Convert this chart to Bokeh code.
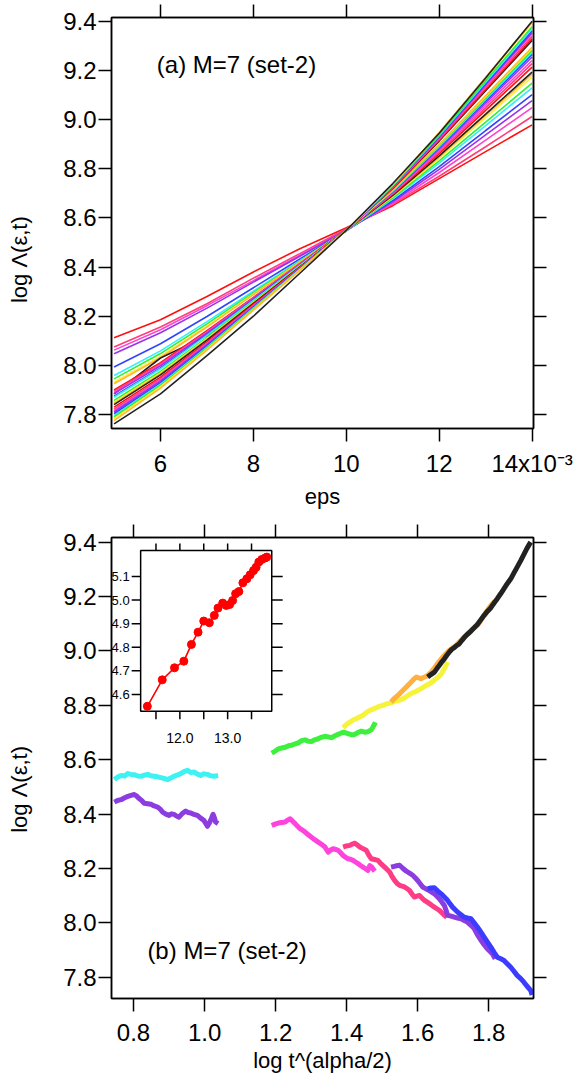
import numpy as np
from bokeh.plotting import figure
from bokeh.models import (Range1d, LinearAxis, FixedTicker, LabelSet, Label,
                          ColumnDataSource, PrintfTickFormatter)
from bokeh.layouts import column
from bokeh.embed import file_html
from bokeh.resources import INLINE
from bokeh.core.properties import value

FONT = "Liberation Sans"
NB = "\u00a0"

# ---------------- panel (a) data ----------------
eps = [5, 6, 7, 8, 9, 10, 11, 12, 13, 14]
cycle_colors = ["#ff1010", "#ff3d7a", "#ff44cc", "#9933ee", "#3344ff",
                "#33eeff", "#33ee33", "#ffee33", "#ffb833", "#222222"]

set1 = [
    [8.112, 8.186, 8.280, 8.380, 8.475, 8.560, 8.650, 8.760, 8.870, 8.979],
    [8.075, 8.156, 8.251, 8.355, 8.455, 8.556, 8.656, 8.770, 8.890, 9.013],
    [8.062, 8.145, 8.243, 8.345, 8.448, 8.552, 8.660, 8.785, 8.917, 9.049],
    [8.047, 8.133, 8.233, 8.339, 8.444, 8.550, 8.666, 8.798, 8.938, 9.078],
    [7.993, 8.088, 8.199, 8.316, 8.433, 8.548, 8.671, 8.809, 8.956, 9.102],
    [7.959, 8.059, 8.178, 8.302, 8.426, 8.548, 8.678, 8.823, 8.976, 9.130],
    [7.945, 8.048, 8.169, 8.296, 8.423, 8.550, 8.682, 8.832, 8.990, 9.149],
    [7.931, 8.036, 8.160, 8.290, 8.420, 8.550, 8.687, 8.843, 9.008, 9.173],
    [7.925, 8.031, 8.156, 8.288, 8.419, 8.550, 8.690, 8.848, 9.017, 9.185],
    [7.884, 8.030, 8.120, 8.270, 8.410, 8.550, 8.692, 8.853, 9.023, 9.194],
]
set2 = [
    [7.900, 8.011, 8.141, 8.277, 8.414, 8.552, 8.696, 8.862, 9.038, 9.214],
    [7.895, 8.006, 8.137, 8.275, 8.412, 8.550, 8.699, 8.869, 9.048, 9.228],
    [7.890, 8.002, 8.134, 8.273, 8.411, 8.550, 8.702, 8.875, 9.058, 9.241],
    [7.885, 7.998, 8.131, 8.271, 8.410, 8.548, 8.705, 8.881, 9.068, 9.255],
    [7.875, 7.990, 8.125, 8.267, 8.408, 8.550, 8.708, 8.887, 9.076, 9.266],
    [7.870, 7.986, 8.122, 8.264, 8.407, 8.550, 8.709, 8.890, 9.082, 9.274],
    [7.857, 7.975, 8.113, 8.259, 8.404, 8.550, 8.711, 8.894, 9.088, 9.282],
    [7.850, 7.969, 8.109, 8.256, 8.403, 8.550, 8.713, 8.898, 9.094, 9.290],
    [7.845, 7.965, 8.106, 8.254, 8.402, 8.550, 8.714, 8.900, 9.098, 9.295],
    [7.840, 7.961, 8.103, 8.252, 8.401, 8.550, 8.720, 8.913, 9.118, 9.323],
]
set3 = [
    [7.830, 7.952, 8.096, 8.248, 8.399, 8.550, 8.722, 8.917, 9.123, 9.330],
    [7.822, 7.946, 8.091, 8.244, 8.397, 8.550, 8.724, 8.921, 9.131, 9.340],
    [7.816, 7.941, 8.088, 8.242, 8.396, 8.550, 8.726, 8.926, 9.138, 9.350],
    [7.810, 7.936, 8.084, 8.239, 8.395, 8.550, 8.727, 8.928, 9.142, 9.355],
    [7.803, 7.930, 8.079, 8.236, 8.393, 8.550, 8.729, 8.932, 9.147, 9.362],
    [7.795, 7.923, 8.074, 8.233, 8.391, 8.550, 8.730, 8.935, 9.153, 9.370],
    [7.790, 7.919, 8.071, 8.231, 8.390, 8.550, 8.732, 8.939, 9.159, 9.378],
    [7.782, 7.913, 8.066, 8.227, 8.389, 8.550, 8.735, 8.946, 9.170, 9.393],
    [7.775, 7.907, 8.062, 8.225, 8.387, 8.550, 8.736, 8.948, 9.173, 9.397],
    [7.762, 7.884, 8.040, 8.200, 8.375, 8.550, 8.740, 8.945, 9.170, 9.401],
]

a_xticks = [6, 8, 10, 12, 14]
a_xlabels = ["6", "8", "10", "12", "14x10\u207b\u00b3"]
a_yticks = [7.8, 8.0, 8.2, 8.4, 8.6, 8.8, 9.0, 9.2, 9.4]

# ---------------- panel (b) data ----------------
cyan_x = [0.746, 0.755, 0.765, 0.775, 0.784, 0.793, 0.802, 0.812, 0.821, 0.830, 0.840,
          0.849, 0.858, 0.868, 0.877, 0.886, 0.896, 0.905, 0.914, 0.924, 0.933,
          0.942, 0.952, 0.961, 0.971, 0.980, 0.989, 0.998, 1.008, 1.017, 1.027, 1.038]
cyan_y = [8.527, 8.536, 8.542, 8.540, 8.549, 8.546, 8.545, 8.540, 8.539, 8.543, 8.546,
          8.541, 8.539, 8.537, 8.534, 8.531, 8.527, 8.533, 8.539, 8.544, 8.549,
          8.556, 8.561, 8.553, 8.555, 8.547, 8.542, 8.548, 8.546, 8.541, 8.539, 8.542]
purple1_x = [0.746, 0.755, 0.765, 0.775, 0.784, 0.793, 0.802, 0.809, 0.816, 0.823,
             0.830, 0.840, 0.849, 0.858, 0.868, 0.875, 0.882, 0.891, 0.900, 0.907,
             0.914, 0.921, 0.928, 0.937, 0.947, 0.954, 0.961, 0.970, 0.980, 0.989,
             0.998, 1.003, 1.008, 1.013, 1.017, 1.021, 1.024, 1.028, 1.031, 1.038]
purple1_y = [8.444, 8.450, 8.453, 8.460, 8.465, 8.469, 8.472, 8.466, 8.457, 8.450,
             8.440, 8.438, 8.436, 8.430, 8.426, 8.418, 8.407, 8.400, 8.395, 8.401,
             8.399, 8.393, 8.389, 8.402, 8.411, 8.406, 8.404, 8.399, 8.395, 8.385,
             8.377, 8.366, 8.355, 8.366, 8.377, 8.390, 8.399, 8.385, 8.371, 8.365]
green_x = [1.189, 1.198, 1.208, 1.217, 1.227, 1.236, 1.245, 1.255, 1.264, 1.273, 1.283,
           1.292, 1.301, 1.310, 1.320, 1.330, 1.339, 1.348, 1.357, 1.367, 1.376,
           1.383, 1.390, 1.397, 1.404, 1.413, 1.423, 1.432, 1.441, 1.450, 1.460,
           1.469, 1.474, 1.479, 1.481]
green_y = [8.624, 8.631, 8.640, 8.643, 8.646, 8.651, 8.653, 8.658, 8.662, 8.670, 8.673,
           8.668, 8.667, 8.673, 8.677, 8.683, 8.686, 8.684, 8.681, 8.688, 8.693,
           8.697, 8.701, 8.699, 8.696, 8.692, 8.693, 8.700, 8.705, 8.701, 8.703,
           8.710, 8.720, 8.732, 8.738]
yellow_x = [1.390, 1.399, 1.409, 1.418, 1.427, 1.437, 1.446, 1.455, 1.465, 1.474, 1.483,
            1.493, 1.502, 1.512, 1.521, 1.530, 1.540, 1.549, 1.558, 1.568, 1.577,
            1.586, 1.596, 1.605, 1.614, 1.624, 1.633, 1.642, 1.652, 1.659, 1.666,
            1.675, 1.682, 1.684]
yellow_y = [8.718, 8.729, 8.738, 8.746, 8.751, 8.758, 8.763, 8.773, 8.781, 8.786, 8.791,
            8.797, 8.800, 8.805, 8.808, 8.812, 8.816, 8.819, 8.824, 8.832, 8.840,
            8.846, 8.852, 8.858, 8.865, 8.873, 8.879, 8.887, 8.898, 8.905, 8.914,
            8.935, 8.953, 8.959]
orange_x = [1.525, 1.534, 1.544, 1.553, 1.563, 1.572, 1.581, 1.589, 1.596, 1.603,
            1.609, 1.617, 1.624, 1.631, 1.638, 1.645, 1.652, 1.661, 1.670, 1.680,
            1.689, 1.698, 1.708, 1.717, 1.726, 1.738, 1.750, 1.759, 1.768, 1.778,
            1.787, 1.796, 1.806, 1.817]
orange_y = [8.812, 8.825, 8.836, 8.848, 8.861, 8.873, 8.885, 8.896, 8.904, 8.901,
            8.898, 8.903, 8.906, 8.914, 8.922, 8.934, 8.947, 8.962, 8.977, 8.990,
            9.002, 9.011, 9.020, 9.033, 9.045, 9.060, 9.075, 9.085, 9.094, 9.112,
            9.131, 9.149, 9.167, 9.183]
black_x = [1.628, 1.637, 1.647, 1.654, 1.661, 1.668, 1.675, 1.682, 1.689, 1.696,
           1.703, 1.710, 1.717, 1.724, 1.731, 1.740, 1.750, 1.759, 1.768, 1.778,
           1.787, 1.796, 1.806, 1.815, 1.824, 1.834, 1.843, 1.852, 1.862, 1.871,
           1.880, 1.890, 1.899, 1.908, 1.918]
black_y = [8.904, 8.913, 8.922, 8.935, 8.947, 8.960, 8.971, 8.984, 8.996, 9.006,
           9.012, 9.020, 9.026, 9.038, 9.049, 9.061, 9.073, 9.085, 9.097, 9.115,
           9.131, 9.145, 9.159, 9.176, 9.192, 9.211, 9.229, 9.247, 9.265, 9.287,
           9.308, 9.332, 9.355, 9.378, 9.400]
magenta_x = [1.189, 1.198, 1.208, 1.217, 1.227, 1.234, 1.241, 1.248, 1.255, 1.262,
             1.269, 1.276, 1.283, 1.292, 1.301, 1.310, 1.320, 1.330, 1.339, 1.344,
             1.348, 1.355, 1.362, 1.369, 1.376, 1.383, 1.390, 1.397, 1.404, 1.411,
             1.418, 1.425, 1.432, 1.439, 1.446, 1.453, 1.460, 1.465, 1.470, 1.474,
             1.479]
magenta_y = [8.358, 8.363, 8.367, 8.369, 8.371, 8.378, 8.383, 8.374, 8.365, 8.355,
             8.346, 8.341, 8.334, 8.324, 8.315, 8.306, 8.297, 8.288, 8.279, 8.268,
             8.260, 8.268, 8.273, 8.270, 8.267, 8.258, 8.248, 8.241, 8.236, 8.234,
             8.230, 8.224, 8.218, 8.211, 8.205, 8.199, 8.193, 8.211, 8.206, 8.199,
             8.190]
rose_x = [1.390, 1.399, 1.409, 1.416, 1.423, 1.430, 1.437, 1.446, 1.455, 1.462,
          1.469, 1.479, 1.488, 1.497, 1.507, 1.514, 1.521, 1.528, 1.535, 1.542,
          1.549, 1.556, 1.563, 1.570, 1.577, 1.584, 1.591, 1.598, 1.605, 1.612,
          1.619, 1.626, 1.633, 1.640, 1.647, 1.654, 1.661, 1.668, 1.675, 1.682]
rose_y = [8.279, 8.283, 8.285, 8.290, 8.293, 8.286, 8.279, 8.273, 8.267, 8.250,
          8.236, 8.233, 8.230, 8.217, 8.205, 8.196, 8.187, 8.170, 8.156, 8.145,
          8.138, 8.135, 8.132, 8.126, 8.119, 8.106, 8.095, 8.098, 8.101, 8.091,
          8.083, 8.077, 8.071, 8.064, 8.058, 8.052, 8.046, 8.037, 8.028, 8.021]
purple2_x = [1.525, 1.537, 1.549, 1.558, 1.568, 1.577, 1.586, 1.593, 1.600, 1.607,
             1.614, 1.621, 1.628, 1.637, 1.647, 1.654, 1.661, 1.668, 1.675, 1.680,
             1.684, 1.694, 1.703, 1.712, 1.722, 1.731, 1.740, 1.750, 1.759, 1.768,
             1.778, 1.787, 1.796, 1.803, 1.810, 1.818]
purple2_y = [8.205, 8.209, 8.212, 8.201, 8.190, 8.183, 8.175, 8.166, 8.156, 8.144,
             8.132, 8.127, 8.122, 8.115, 8.107, 8.098, 8.089, 8.077, 8.064, 8.046,
             8.028, 8.025, 8.021, 8.018, 8.015, 8.009, 8.003, 7.991, 7.979, 7.957,
             7.936, 7.920, 7.905, 7.896, 7.887, 7.868]
blue_x = [1.628, 1.637, 1.647, 1.656, 1.666, 1.675, 1.684, 1.691, 1.698, 1.705,
          1.712, 1.722, 1.731, 1.740, 1.750, 1.759, 1.768, 1.778, 1.787, 1.796,
          1.806, 1.815, 1.824, 1.834, 1.843, 1.852, 1.862, 1.871, 1.880, 1.890,
          1.899, 1.908, 1.918, 1.922]
blue_y = [8.126, 8.128, 8.129, 8.118, 8.107, 8.095, 8.083, 8.070, 8.058, 8.049,
          8.040, 8.030, 8.021, 8.018, 8.015, 8.000, 7.985, 7.966, 7.948, 7.930,
          7.911, 7.892, 7.874, 7.868, 7.862, 7.850, 7.837, 7.822, 7.807, 7.795,
          7.782, 7.767, 7.752, 7.735]

b_traces = [
    (cyan_x, cyan_y, "#3cf2f2"),
    (purple1_x, purple1_y, "#8b3de0"),
    (green_x, green_y, "#3ef03e"),
    (magenta_x, magenta_y, "#ff44dd"),
    (yellow_x, yellow_y, "#f7f23a"),
    (orange_x, orange_y, "#ffb040"),
    (rose_x, rose_y, "#ff3d86"),
    (purple2_x, purple2_y, "#8b3de0"),
    (blue_x, blue_y, "#3c3cff"),
    (black_x, black_y, "#222222"),
]
b_xticks = [0.8, 1.0, 1.2, 1.4, 1.6, 1.8]
b_yticks = [7.8, 8.0, 8.2, 8.4, 8.6, 8.8, 9.0, 9.2, 9.4]

# inset data
inset_x = [11.319, 11.631, 11.888, 12.083, 12.242, 12.381, 12.500, 12.617, 12.721,
           12.798, 12.896, 12.971, 13.042, 13.104, 13.167, 13.235, 13.319, 13.402,
           13.471, 13.542, 13.596, 13.652, 13.715, 13.783, 13.819]
inset_y = [4.550, 4.662, 4.713, 4.741, 4.812, 4.864, 4.911, 4.904, 4.935,
           4.966, 4.987, 4.977, 4.981, 4.998, 5.027, 5.036, 5.073, 5.090,
           5.107, 5.125, 5.139, 5.161, 5.172, 5.178, 5.182]
inset_xticks = [11.5, 12.0, 12.5, 13.0, 13.5]
inset_xlabel_vals = [12.0, 13.0]
inset_xlabels = ["12.0", "13.0"]
inset_yticks = [4.6, 4.7, 4.8, 4.9, 5.0, 5.1]
inset_ylabels = ["4.6", "4.7", "4.8", "4.9", "5.0", "5.1"]


def style(p, xt, yt, xfmt, yfmt, xlabel, ylabel, xover=None, xstand=8):
    p.grid.visible = False
    p.outline_line_color = "black"
    p.outline_line_width = 1.5
    p.background_fill_color = "white"
    p.border_fill_color = "white"
    xa, ya = p.below[0], p.left[0]
    for ax in (xa, ya):
        ax.axis_line_width = 1.5
        ax.major_tick_line_width = 1.5
        ax.major_tick_in = 0
        ax.major_tick_out = 13
        ax.minor_tick_line_color = None
        ax.major_label_text_font = FONT
        ax.major_label_text_font_size = "24px"
        ax.major_label_text_color = "black"
        ax.axis_label_text_font = FONT
        ax.axis_label_text_font_size = "22px"
        ax.axis_label_text_font_style = "normal"
        ax.axis_label_text_color = "black"
    xa.ticker = FixedTicker(ticks=xt)
    ya.ticker = FixedTicker(ticks=yt)
    xa.formatter = PrintfTickFormatter(format=xfmt)
    ya.formatter = PrintfTickFormatter(format=yfmt)
    if xover:
        xa.major_label_overrides = xover
    xa.major_label_standoff = xstand
    ya.major_label_standoff = 2
    xa.axis_label = xlabel
    xa.axis_label_standoff = 4
    ya.axis_label = ylabel
    ya.axis_label_standoff = 28
    for loc, ticks in (("above", xt), ("right", yt)):
        ax = LinearAxis(ticker=FixedTicker(ticks=ticks),
                        major_label_overrides={t: "" for t in ticks},
                        major_label_standoff=0,
                        major_tick_in=0, major_tick_out=13, major_tick_line_width=1.5,
                        axis_line_width=1.5, minor_tick_line_color=None)
        p.add_layout(ax, loc)


# ---------------- figure (a) ----------------
p1 = figure(width=584, height=520, output_backend="svg", toolbar_location=None,
            x_range=Range1d(4.945, 14.03), y_range=Range1d(7.743, 9.416),
            min_border_left=111, min_border_right=42, min_border_top=17,
            min_border_bottom=92)
style(p1, a_xticks, a_yticks, "%d", "%.1f", "eps",
      "log \u039b(\u03b5,t)" + NB * 12,
      xover={t: l for t, l in zip(a_xticks, a_xlabels)})

for s in (set1, set2, set3):
    for row, c in zip(s, cycle_colors):
        p1.line(eps, row, color=c, line_width=1.6)

p1.add_layout(Label(x=5.92, y=9.225, text="(a) M=7 (set-2)", text_font=FONT,
                    text_font_size="24px", text_baseline="middle", text_align="left",
                    text_color="black"))

# ---------------- figure (b) ----------------
p2 = figure(width=584, height=569, output_backend="svg", toolbar_location=None,
            x_range=Range1d(0.738, 1.926), y_range=Range1d(7.722, 9.417),
            min_border_left=109, min_border_right=51, min_border_top=17,
            min_border_bottom=91)
style(p2, b_xticks, b_yticks, "%.1f", "%.1f", "log t^(alpha/2)",
      "log \u039b(\u03b5,t)" + NB * 7, xstand=12)

for xs, ys, c in b_traces:
    p2.line(xs, ys, color=c, line_width=5, line_join="round")

p2.add_layout(Label(x=0.839, y=7.899, text="(b) M=7 (set-2)", text_font=FONT,
                    text_font_size="24px", text_baseline="middle", text_align="left",
                    text_color="black"))

# inset drawn in its own ranges inside panel (b)
IPX = 48.0   # px per inset x unit
IPY = 236.0  # px per inset y unit
p2.extra_x_ranges = {"ix": Range1d(10.569, 19.402)}
p2.extra_y_ranges = {"iy": Range1d(3.312, 5.265)}
i_left, i_right, i_bottom, i_top = 11.179, 13.923, 4.529, 5.210
rk = dict(x_range_name="ix", y_range_name="iy")
p2.quad(left=[i_left], right=[i_right], bottom=[i_bottom], top=[i_top],
        fill_color="white", line_color="black", line_width=1.5, **rk)
n = len(inset_xticks)
p2.segment(x0=inset_xticks, x1=inset_xticks, y0=[i_bottom] * n,
           y1=[i_bottom - 8 / IPY] * n, line_color="black", line_width=1.5, **rk)
p2.segment(x0=inset_xticks, x1=inset_xticks, y0=[i_top] * n,
           y1=[i_top + 7 / IPY] * n, line_color="black", line_width=1.5, **rk)
m = len(inset_yticks)
p2.segment(x0=[i_left] * m, x1=[i_left - 9 / IPX] * m, y0=inset_yticks,
           y1=inset_yticks, line_color="black", line_width=1.5, **rk)
p2.segment(x0=[i_right] * m, x1=[i_right + 11 / IPX] * m, y0=inset_yticks,
           y1=inset_yticks, line_color="black", line_width=1.5, **rk)
p2.line(inset_x, inset_y, color="#ff0000", line_width=1.6, **rk)
p2.scatter(inset_x, inset_y, size=8, color="#ff0000", **rk)

ysrc = ColumnDataSource(dict(x=[i_left - 11 / IPX] * m, y=inset_yticks, t=inset_ylabels))
p2.add_layout(LabelSet(x="x", y="y", text="t", source=ysrc, text_font=value(FONT),
                       text_font_size="13px", text_align="right",
                       text_baseline="middle", text_color="black", **rk))
xsrc = ColumnDataSource(dict(x=inset_xlabel_vals,
                             y=[i_bottom - 27 / IPY] * len(inset_xlabel_vals),
                             t=inset_xlabels))
p2.add_layout(LabelSet(x="x", y="y", text="t", source=xsrc, text_font=value(FONT),
                       text_font_size="14px", text_align="center",
                       text_baseline="middle", text_color="black", **rk))

layout = column(p1, p2, spacing=0)
open("out.html", "w").write(file_html(layout, INLINE))
